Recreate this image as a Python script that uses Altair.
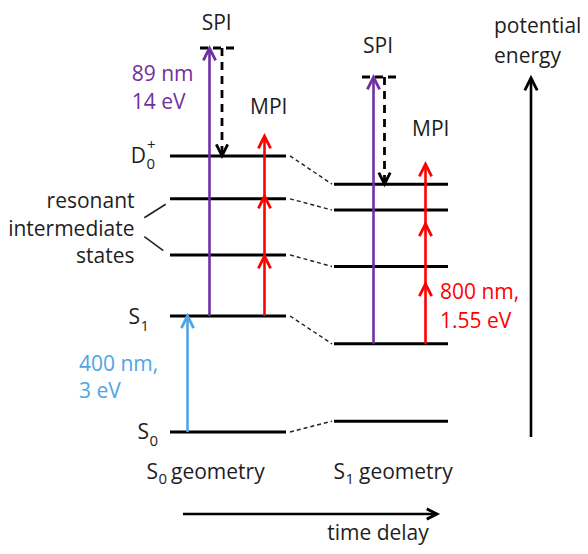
import altair as alt
import pandas as pd

# ---------------- data (energies in eV, relative to S0 at the S0 geometry) ----------------
states = ["S0", "S1", "R1", "R2", "D0+"]
energy_s0_geometry = [0.0, 3.0, 4.58, 6.03, 7.14]
energy_s1_geometry = [0.28, 2.28, 4.28, 5.74, 6.41]
spi_final_energy = [9.93, 9.18]          # SPI final states (drawn schematically)
pump_eV = 3.0                            # 400 nm
probe_eV = 1.55                          # 800 nm
n_probe_photons = 3

# ---------------- layout ----------------
PX_PER_EV = 38.67
E0_PX = 432.0
W, H = 572, 538


def ey(py):
    """vertical layout position (page pixel) -> energy coordinate"""
    return (E0_PX - py) / PX_PER_EV


XS = alt.Scale(domain=[8, 8 + W], nice=False, zero=False)
YS = alt.Scale(domain=[ey(8 + H), ey(8)], nice=False, zero=False)

col_span = {"S0 geometry": (170, 286), "S1 geometry": (334, 448)}
top_span = {"S0 geometry": (200, 235), "S1 geometry": (362, 397)}
conn_span = (290, 332)
x_pump = 187.5
x_spi = {"S0 geometry": 209.5, "S1 geometry": 373.5}
x_relax = {"S0 geometry": 222.0, "S1 geometry": 384.5}
x_mpi = {"S0 geometry": 264.5, "S1 geometry": 425.5}

PURPLE = "#7030A0"
RED = "#FF0000"
BLUE = "#4EA5E6"
INK = "#1e1e1e"
FONT = "Open Sans"
FS = 21
FS_SUB = 15

geoms = ["S0 geometry", "S1 geometry"]
energies = {"S0 geometry": energy_s0_geometry, "S1 geometry": energy_s1_geometry}

# levels
lev_rows = []
for g in geoms:
    for s, e in zip(states, energies[g]):
        lev_rows.append({"x": col_span[g][0], "x2": col_span[g][1], "E": e})
levels = pd.DataFrame(lev_rows)

tops = pd.DataFrame([
    {"x": top_span[g][0], "x2": top_span[g][1], "E": spi_final_energy[i]}
    for i, g in enumerate(geoms)
])

conn = pd.DataFrame([
    {"x": conn_span[0], "x2": conn_span[1], "E": a, "E2": b}
    for a, b in zip(energy_s0_geometry, energy_s1_geometry)
])

# solid arrows (x, from, to, color)
arr = []
arr.append({"x": x_pump, "E": energy_s0_geometry[0], "E2": energy_s0_geometry[0] + pump_eV, "c": BLUE})
for i, g in enumerate(geoms):
    s1 = energies[g][1]
    arr.append({"x": x_spi[g], "E": s1, "E2": spi_final_energy[i], "c": PURPLE})
    for k in range(n_probe_photons):
        arr.append({"x": x_mpi[g], "E": s1 + k * probe_eV, "E2": s1 + (k + 1) * probe_eV, "c": RED})
arrows = pd.DataFrame(arr)

dashed = pd.DataFrame([
    {"x": x_relax[g], "E": spi_final_energy[i], "E2": energies[g][4]}
    for i, g in enumerate(geoms)
])

# frame arrows (potential energy / time delay)
pe_arrow = pd.DataFrame([{"x": 531, "E": ey(437), "E2": ey(78)}])
td_arrow = pd.DataFrame([{"x": 183, "x2": 437, "E": ey(514)}])

brackets = pd.DataFrame([
    {"x": 144.3, "x2": 165.7, "E": ey(217.7), "E2": ey(204.3)},
    {"x": 144.3, "x2": 163.3, "E": ey(236.7), "E2": ey(250.7)},
])

UP = "M-0.5,1L0,0L0.5,1"
DOWN = "M-0.5,-1L0,0L0.5,-1"
RIGHT = "M-1,-0.5L0,0L-1,0.5"


def X(f="x"):
    return alt.X(f"{f}:Q", scale=XS, axis=None)


def Y(f="E"):
    return alt.Y(f"{f}:Q", scale=YS, axis=None)


layers = []

# level lines
layers.append(alt.Chart(levels).mark_rule(strokeWidth=3, color="black").encode(
    x=X(), x2="x2:Q", y=Y()))
layers.append(alt.Chart(tops).mark_rule(strokeWidth=3, color="black", strokeDash=[8, 5]).encode(
    x=X(), x2="x2:Q", y=Y()))
layers.append(alt.Chart(conn).mark_rule(strokeWidth=1.4, color="#222", strokeDash=[4, 3]).encode(
    x=X(), x2="x2:Q", y=Y(), y2="E2:Q"))
layers.append(alt.Chart(brackets).mark_rule(strokeWidth=1.6, color="#222").encode(
    x=X(), x2="x2:Q", y=Y(), y2="E2:Q"))

# arrows
layers.append(alt.Chart(arrows).mark_rule(strokeWidth=2.6).encode(
    x=X(), y=Y(), y2="E2:Q", color=alt.Color("c:N", scale=None)))
layers.append(alt.Chart(arrows).mark_point(shape=UP, size=600, filled=False, strokeWidth=2.8,
                                           opacity=1, strokeJoin="miter").encode(
    x=X(), y=Y("E2"), color=alt.Color("c:N", scale=None)))
layers.append(alt.Chart(dashed).mark_rule(strokeWidth=2.8, color="black", strokeDash=[8, 6]).encode(
    x=X(), y=Y(), y2="E2:Q"))
layers.append(alt.Chart(dashed).mark_point(shape=DOWN, size=520, filled=False, strokeWidth=2.8,
                                           opacity=1, color="black", strokeJoin="miter").encode(
    x=X(), y=Y("E2")))
layers.append(alt.Chart(pe_arrow).mark_rule(strokeWidth=2.6, color="black").encode(
    x=X(), y=Y(), y2="E2:Q"))
layers.append(alt.Chart(pe_arrow).mark_point(shape=UP, size=620, filled=False, strokeWidth=2.8,
                                             opacity=1, color="black", strokeJoin="miter").encode(
    x=X(), y=Y("E2")))
layers.append(alt.Chart(td_arrow).mark_rule(strokeWidth=2.6, color="black").encode(
    x=X(), x2="x2:Q", y=Y()))
layers.append(alt.Chart(td_arrow).mark_point(shape=RIGHT, size=420, filled=False, strokeWidth=2.8,
                                             opacity=1, color="black", strokeJoin="miter").encode(
    x=X("x2"), y=Y()))

# ---------------- text annotations ----------------
texts_center = [
    ("SPI", 216.7, 24, INK), ("SPI", 378, 46.7, INK),
    ("MPI", 268.7, 108, INK), ("MPI", 430.7, 130, INK),
]
texts_bottom = [("time delay", 378, 540, INK)]
texts_left = [
    ("89 nm", 131.7, 75, PURPLE), ("14 eV", 131.7, 102.7, PURPLE),
    ("400 nm,", 79, 365, BLUE), ("3 eV", 79, 392, BLUE),
    ("800 nm,", 440, 293.3, RED), ("1.55 eV", 440, 322, RED),
    ("potential", 494, 26.7, INK), ("energy", 494, 56.7, INK),
    ("geometry", 171, 473, INK), ("geometry", 359, 473, INK),
]
texts_right = [
    ("resonant", 134.5, 201.7, INK), ("intermediate", 134.5, 230, INK),
    ("states", 134.5, 257, INK),
    ("S", 140, 318, INK), ("S", 149, 433, INK), ("D", 146, 157, INK),
    ("S", 158, 473, INK), ("S", 345, 473, INK),
]
texts_sub = [
    ("1", 140.5, 326, INK), ("0", 149.5, 441, INK), ("0", 146.5, 163.5, INK),
    ("+", 147, 145, INK), ("0", 158.5, 479, INK), ("1", 345.5, 479, INK),
]


def tdf(rows):
    return pd.DataFrame([{"t": t, "x": x, "E": ey(y), "c": c} for t, x, y, c in rows])


for rows, align, base, size in [(texts_center, "center", "middle", FS),
                                (texts_bottom, "center", "alphabetic", FS),
                                (texts_left, "left", "middle", FS),
                                (texts_right, "right", "middle", FS),
                                (texts_sub, "left", "middle", FS_SUB)]:
    layers.append(alt.Chart(tdf(rows)).mark_text(align=align, baseline=base, font=FONT,
                                                 fontSize=size).encode(
        x=X(), y=Y(), text="t:N", color=alt.Color("c:N", scale=None)))

chart = alt.layer(*layers).properties(
    width=W, height=H, padding=0, autosize=alt.AutoSizeParams(type="none")
).configure_view(stroke=None)

chart.save("out.html", embed_options={"renderer": "svg", "actions": False})
